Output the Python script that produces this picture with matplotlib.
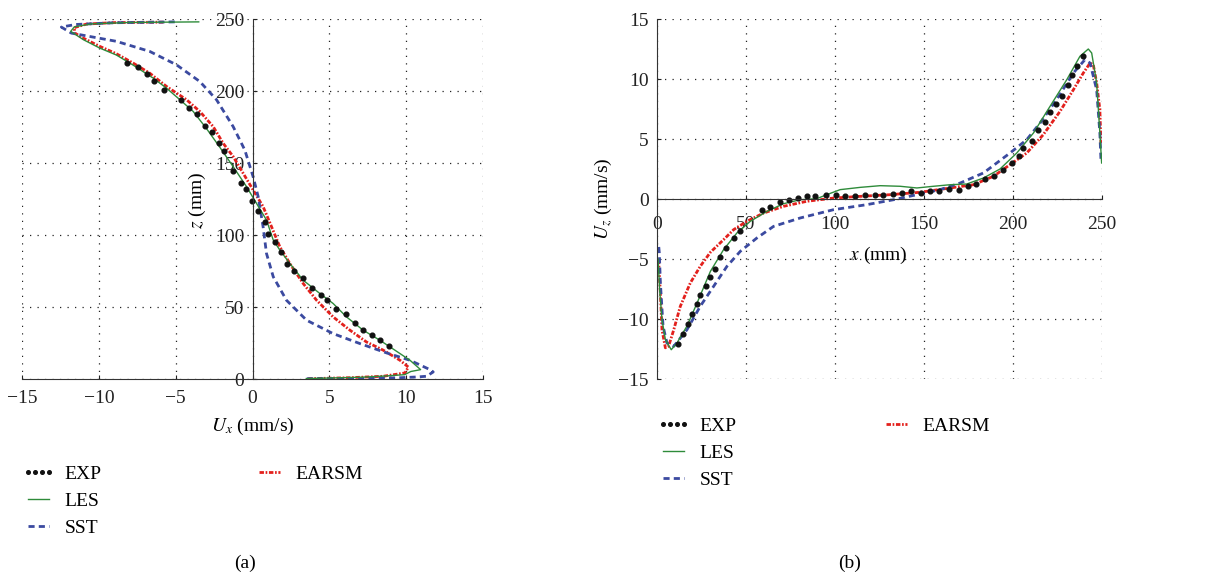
import matplotlib.pyplot as plt
from matplotlib.lines import Line2D
import numpy as np

plt.rcParams['font.family'] = ['Liberation Serif', 'DejaVu Serif']
plt.rcParams['mathtext.fontset'] = 'stix'

# ---- (a) U_x profile along z ----
exp_ux = [-8.16, -7.45, -6.88, -6.4, -5.73, -4.67, -4.12, -3.6, -3.1, -2.65, -2.21, -1.87,
          -1.26, -0.74, -0.43, -0.02, 0.37, 0.80, 1.04, 1.48, 1.85, 2.26, 2.73, 3.28, 3.86,
          4.43, 4.86, 5.43, 6.1, 6.64, 7.18, 7.75, 8.31, 8.9]
exp_z = [219.4, 217, 212, 207, 201, 194, 188, 184, 176, 171.6, 163.7, 158,
         144.7, 136.4, 131.7, 123.8, 116.9, 108.8, 100.4, 94.9, 87.9, 79.8, 75.1, 69.8, 63.5,
         58.4, 54.7, 48.5, 44.8, 39.2, 34.3, 30.6, 26.9, 23]

les_ux = [-3.5, -8.0, -10.5, -11.6, -11.83, -11.0, -9.94, -8.86, -7.77, -6.47, -5.6, -4.73,
          -3.86, -3.0, -2.13, -1.26, -0.39, 0.26, 0.91, 1.35, 1.78, 2.43, 3.3, 4.38, 5.25,
          6.12, 7.2, 8.29, 9.27, 10.25, 10.94, 10.3, 9.9, 8.5, 7.0, 3.5]
les_z = [248, 247.6, 246.6, 244.5, 241.4, 235.6, 229.8, 225, 218, 209, 202, 194,
         185.8, 174, 161, 147.5, 133.6, 122, 110.4, 96.5, 89.5, 80.2, 68.6, 59.4, 52.4,
         43.1, 33.9, 26.9, 20, 13, 6.5, 5.2, 3.0, 2.0, 1.2, 0.3]

sst_ux = [-5.06, -9.0, -11.5, -12.44, -11.79, -8.86, -6.69, -4.95, -3.43, -2.34, -1.26, -0.5,
          0.04, 0.37, 0.69, 0.91, 1.35, 2.21, 3.52, 5.25, 6.99, 8.73, 10.25, 11.55, 11.76,
          11.33, 10.68, 9.6, 7.4, 3.5]
sst_z = [248, 247.4, 246.2, 244.4, 240.2, 234.5, 227.5, 218.2, 206.6, 193.9, 175.3, 159,
         140.5, 126.6, 105.7, 87.2, 71, 54.7, 40.8, 31.5, 24.6, 18.1, 13, 6.5, 4.9,
         1.9, 1.4, 0.9, 0.4, 0.2]

earsm_ux = [-5.8, -9.0, -10.8, -11.6, -11.57, -11.03, -9.94, -8.86, -7.77, -6.69, -5.6, -4.3,
            -3.43, -2.56, -1.91, -1.26, -0.61, 0.04, 0.69, 1.24, 1.78, 2.43, 3.3, 4.17, 5.25,
            6.34, 7.42, 8.51, 9.6, 10.14, 9.92, 8.51, 6.34, 3.52]
earsm_z = [247.8, 247.5, 246.5, 244, 240.3, 236.8, 231, 225.9, 219.4, 212.4, 203.2, 194,
           185.8, 175.3, 163.7, 154.5, 142.9, 131.3, 119.7, 105.7, 91.8, 80.2, 66.3, 54.7, 43.1,
           33.9, 25.7, 20, 13, 8.3, 4.2, 1.9, 0.9, 0.2]

# ---- (b) U_z profile along x ----
exp_x = [11.6, 14.6, 17.2, 19.6, 22.3, 24.3, 27.3, 29.6, 32.7, 35.6, 38.9, 43, 46.4, 58.9,
         63.6, 69.2, 74.3, 79, 84.2, 88.9, 95.1, 100.5, 105.7, 111, 116.9, 122.2, 127.2,
         132.5, 137.5, 142.8, 148.2, 153.4, 158.7, 163.9, 169.5, 174.6, 179.1, 184.3, 189.6,
         194.2, 199.3, 203.6, 205.8, 210.7, 214.3, 217.7, 220.8, 224.2, 227.7, 231.1, 233,
         236.1, 239.5]
exp_uz = [-12.06, -11.25, -10.39, -9.56, -8.75, -7.97, -7.28, -6.5, -5.83, -4.86, -4.08,
          -3.28, -2.69, -0.94, -0.67, -0.28, -0.08, 0.06, 0.28, 0.28, 0.36, 0.36, 0.22, 0.28,
          0.33, 0.36, 0.33, 0.44, 0.5, 0.64, 0.5, 0.64, 0.64, 0.83, 0.78, 1.08, 1.28, 1.67,
          1.94, 2.39, 3.0, 3.61, 4.25, 4.81, 5.78, 6.42, 7.22, 7.92, 8.56, 9.53, 10.36, 11.11,
          11.94]

les_x = [0.6, 1.5, 2.8, 4.7, 8, 11.2, 16.8, 22.5, 30, 37.4, 44.9, 52.4, 61.8, 71.1, 80.5,
         89.8, 95.4, 102.9, 114.2, 125.4, 136.6, 146, 155.3, 164.7, 174, 183.4, 192.7, 202.1,
         211.5, 220.8, 230.2, 237.6, 242.3, 244.2, 247, 248.8, 249.8]
les_uz = [-5.0, -7.6, -10.06, -11.7, -12.56, -12.0, -10.6, -8.67, -6.03, -4.22, -2.83, -1.86,
          -1.03, -0.39, -0.06, 0.03, 0.36, 0.78, 0.97, 1.11, 1.06, 0.92, 1.06, 1.19, 1.25,
          1.75, 2.5, 3.83, 5.5, 7.72, 9.94, 11.89, 12.5, 12.17, 9.67, 5.5, 3.0]

sst_x = [1.0, 1.3, 1.9, 3.4, 5.6, 9.4, 16.8, 24.3, 31.8, 39.3, 46.8, 56.1, 65.5, 80.5, 99.2,
         117.9, 132.9, 146, 159, 170.3, 183.4, 198.3, 207.7, 215.2, 224.5, 233.9, 240.4,
         243.3, 247, 248.8, 249.4]
sst_uz = [-4.0, -4.5, -7.0, -10.6, -12.0, -12.28, -10.9, -8.94, -7.28, -5.61, -4.36, -3.25,
          -2.28, -1.58, -0.89, -0.47, -0.06, 0.36, 0.78, 1.33, 2.17, 3.83, 4.94, 6.33, 8.28,
          10.5, 11.61, 11.33, 9.1, 5.5, 3.28]

earsm_x = [0.9, 1.9, 2.8, 4.7, 6.5, 9.4, 13.1, 18.7, 24.3, 30, 37.4, 43, 50.5, 59.9, 71.1,
           84.2, 99.2, 114.2, 131, 147.8, 164.7, 177.8, 189, 198.3, 207.7, 217, 226.4, 233.9,
           239.5, 243.3, 245.1, 247, 248.8, 249.4]
earsm_uz = [-5.06, -7.83, -10.9, -12.4, -12.28, -10.9, -8.94, -7.0, -5.61, -4.44, -3.39,
            -2.56, -1.86, -1.17, -0.61, -0.19, 0.08, 0.22, 0.36, 0.56, 0.92, 1.19, 1.89, 2.86,
            3.83, 5.36, 7.3, 9.1, 10.5, 11.33, 11.2, 9.67, 7.44, 4.67]

names = ['EXP', 'LES', 'SST', 'EARSM']

c_les = '#2e8b3a'
c_sst = '#3b4aa0'
c_earsm = '#e3201c'
sty = {
    'EXP': dict(color='#111111', linestyle='none', marker='o', markersize=3.4),
    'LES': dict(color=c_les, linewidth=1.0),
    'SST': dict(color=c_sst, linewidth=2.0, dashes=(2.2, 1.5)),
    'EARSM': dict(color=c_earsm, linewidth=2.0, dashes=(1.6, 0.6, 0.6, 0.6)),
}

fig = plt.figure(figsize=(12.15, 5.78), dpi=100)
W, H = 1215, 578
ax1 = fig.add_axes([22 / W, 1 - 379 / H, 461 / W, 360 / H])
ax2 = fig.add_axes([657 / W, 1 - 379 / H, 445 / W, 360 / H])


def style_axes(ax):
    for s in ['top', 'right']:
        ax.spines[s].set_visible(False)
    ax.spines['left'].set_color('#333333')
    ax.spines['bottom'].set_color('#333333')
    ax.grid(True, linestyle=(0, (1, 5)), color='#222222', linewidth=0.9)
    ax.set_axisbelow(True)
    ax.tick_params(direction='in', length=3, labelsize=14, colors='#222222')
    ax.tick_params(axis='x', pad=8)
    ax.tick_params(axis='y', pad=6)


# (a)
ax1.plot(earsm_ux, earsm_z, **sty['EARSM'])
ax1.plot(sst_ux, sst_z, **sty['SST'])
ax1.plot(les_ux, les_z, **sty['LES'])
ax1.plot(exp_ux, exp_z, **sty['EXP'])
ax1.set_xlim(-15, 15)
ax1.set_ylim(0, 250)
ax1.set_xticks(np.arange(-15, 16, 5))
ax1.set_yticks(np.arange(0, 251, 50))
ax1.set_xticklabels(['\u221215', '\u221210', '\u22125', '0', '5', '10', '15'])
style_axes(ax1)
ax1.spines['left'].set_position(('data', 0))
ax1.text(0.5, -0.133, '$U_x$ (mm/s)', transform=ax1.transAxes, ha='center', va='center', fontsize=14)
ax1.text(0.38, 0.497, '$z$ (mm)', transform=ax1.transAxes, ha='center', va='center',
         rotation=90, fontsize=14)

# (b)
ax2.plot(earsm_x, earsm_uz, **sty['EARSM'])
ax2.plot(sst_x, sst_uz, **sty['SST'])
ax2.plot(les_x, les_uz, **sty['LES'])
ax2.plot(exp_x, exp_uz, **sty['EXP'])
ax2.set_xlim(0, 250)
ax2.set_ylim(-15, 15)
ax2.set_xticks(np.arange(0, 251, 50))
ax2.set_yticks(np.arange(-15, 16, 5))
ax2.set_yticklabels(['\u221215', '\u221210', '\u22125', '0', '5', '10', '15'])
style_axes(ax2)
ax2.tick_params(axis='x', pad=12)
ax2.spines['bottom'].set_position(('data', 0))
ax2.text(0.497, 0.344, '$x$ (mm)', transform=ax2.transAxes, ha='center', va='center', fontsize=14)
ax2.text(-0.121, 0.5, '$U_z$ (mm/s)', transform=ax2.transAxes, ha='center', va='center',
         rotation=90, fontsize=14)

# legends: first column EXP/LES/SST, second column EARSM
handles = {n: Line2D([], [], **sty[n]) for n in names}
handles['EXP'] = Line2D([], [], color='#111111', linestyle='none', marker='o', markersize=2.6)

leg_kw = dict(frameon=False, fontsize=14, handlelength=1.7, handletextpad=0.5,
              labelspacing=0.5, numpoints=4, borderpad=0, borderaxespad=0, loc='upper left')
for x0, x1, y0 in [(22, 253, 465), (657, 880, 417)]:
    fig.legend([handles[n] for n in names[:3]], names[:3],
               bbox_to_anchor=(x0 / W, 1 - y0 / H), **leg_kw)
    fig.legend([handles['EARSM']], ['EARSM'],
               bbox_to_anchor=(x1 / W, 1 - y0 / H), **leg_kw)

fig.text(245 / W, 1 - 563 / H, '(a)', ha='center', va='center', fontsize=14)
fig.text(850 / W, 1 - 563 / H, '(b)', ha='center', va='center', fontsize=14)

fig.savefig('out.png', dpi=100)
